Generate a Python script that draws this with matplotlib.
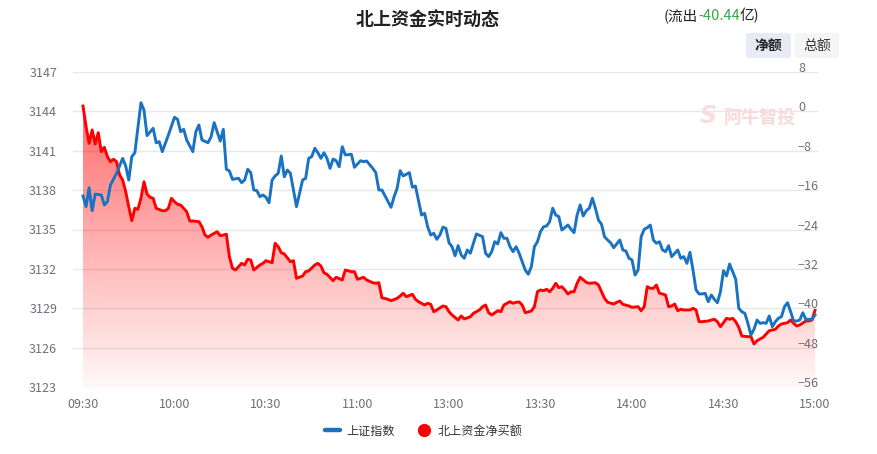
import matplotlib
matplotlib.use('Agg')
import matplotlib.pyplot as plt
import numpy as np
from matplotlib.lines import Line2D
from matplotlib.patches import Polygon, FancyBboxPatch

plt.rcParams['font.family'] = ['Noto Sans CJK SC', 'DejaVu Sans']

# minute index since 09:30 (0..240, lunch break removed)
time_ticks = [0, 30, 60, 90, 120, 150, 180, 210, 240]
time_labels = ['09:30', '10:00', '10:30', '11:00', '13:00', '13:30', '14:00', '14:30', '15:00']

# 上证指数 (left axis)
sh_t = [0, 1, 2, 3, 4, 6, 7, 8, 9, 11, 13, 14, 15, 16, 17, 19, 20, 21, 23, 24,
        25, 26, 28, 30, 31, 32, 33, 34, 36, 37, 38, 39, 41, 42, 43, 44, 45, 46, 47, 48,
        49, 51, 52, 53, 54, 55, 56, 57, 58, 59, 60, 61, 62, 63, 64, 65, 66, 67, 68, 70,
        71, 72, 73, 74, 75, 76, 77, 78, 79, 80, 81, 82, 83, 84, 85, 86, 88, 89, 91, 92,
        93, 95, 96, 97, 98, 100, 101, 102, 103, 104, 105, 107, 108, 109, 111, 112, 113, 114, 115, 116,
        117, 118, 119, 120, 121, 122, 123, 124, 125, 126, 127, 128, 129, 131, 132, 133, 134, 135, 136, 137,
        138, 139, 140, 141, 142, 143, 144, 145, 146, 147, 148, 149, 150, 151, 152, 153, 154, 155, 156, 157,
        159, 160, 161, 162, 163, 164, 165, 166, 167, 168, 169, 170, 171, 172, 173, 174, 175, 176, 177, 178,
        179, 180, 181, 182, 183, 184, 185, 186, 187, 188, 189, 190, 191, 192, 193, 194, 195, 196, 197, 198,
        199, 200, 201, 202, 203, 204, 205, 206, 207, 208, 209, 210, 211, 212, 213, 214, 215, 216, 217, 218,
        219, 220, 221, 222, 223, 224, 225, 226, 227, 228, 229, 230, 231, 232, 233, 234, 235, 236, 237, 238,
        239, 240]
sh_val = [3137.55, 3136.74, 3138.18, 3136.43, 3137.70, 3137.63, 3136.87, 3137.12, 3138.39, 3139.28,
          3140.42, 3139.84, 3138.77, 3140.55, 3140.85, 3144.66, 3144.10, 3142.15, 3142.71, 3141.61,
          3141.69, 3140.93, 3142.20, 3143.55, 3143.40, 3142.45, 3142.63, 3141.82, 3140.93, 3142.45,
          3142.96, 3141.82, 3141.61, 3142.07, 3143.14, 3142.45, 3141.74, 3142.63, 3139.59, 3139.46,
          3138.82, 3138.90, 3138.57, 3138.77, 3139.59, 3139.33, 3138.01, 3137.96, 3137.50, 3137.63,
          3137.45, 3137.04, 3138.77, 3139.08, 3139.28, 3140.60, 3139.02, 3139.53, 3139.28, 3136.74,
          3137.76, 3138.77, 3138.90, 3140.42, 3140.55, 3141.19, 3140.85, 3140.42, 3140.85, 3140.42,
          3139.66, 3140.37, 3140.24, 3139.78, 3141.31, 3140.68, 3140.73, 3139.74, 3140.24, 3140.17,
          3140.22, 3139.66, 3139.33, 3138.01, 3138.01, 3137.12, 3136.69, 3137.50, 3138.14, 3139.48,
          3139.08, 3139.33, 3138.22, 3138.31, 3136.10, 3136.23, 3135.21, 3134.58, 3134.71, 3134.25,
          3134.58, 3135.17, 3135.09, 3133.99, 3133.69, 3133.00, 3133.77, 3133.06, 3132.81, 3133.44,
          3133.19, 3133.95, 3134.66, 3134.45, 3133.19, 3132.93, 3133.31, 3134.07, 3133.90, 3134.76,
          3134.33, 3134.33, 3133.69, 3133.31, 3133.69, 3133.19, 3132.55, 3131.91, 3131.59, 3132.17,
          3133.69, 3134.07, 3134.83, 3135.21, 3135.27, 3135.59, 3136.62, 3136.10, 3135.98, 3134.96,
          3135.34, 3135.02, 3134.76, 3136.10, 3136.87, 3136.03, 3136.43, 3136.62, 3137.38, 3136.62,
          3135.72, 3135.40, 3134.45, 3134.20, 3133.99, 3133.61, 3133.90, 3134.20, 3133.44, 3133.36,
          3132.81, 3132.68, 3131.53, 3131.91, 3134.45, 3135.02, 3135.14, 3135.34, 3134.20, 3133.95,
          3134.07, 3133.44, 3133.31, 3133.77, 3132.93, 3133.19, 3133.44, 3132.81, 3132.93, 3132.42,
          3133.26, 3131.91, 3130.39, 3130.09, 3130.09, 3130.14, 3129.50, 3130.01, 3129.68, 3129.42,
          3130.26, 3131.86, 3131.46, 3132.37, 3131.78, 3131.21, 3129.00, 3128.74, 3128.61, 3127.85,
          3126.96, 3127.40, 3128.10, 3127.85, 3127.90, 3127.85, 3128.41, 3127.59, 3127.98, 3128.23,
          3128.36, 3129.12, 3129.42, 3128.74, 3128.03, 3128.03, 3128.10, 3128.66, 3128.16, 3128.16,
          3128.16, 3128.49]

# 北上资金净买额, 亿 (right axis)
nb_t = [0, 1, 2, 3, 4, 5, 6, 7, 8, 9, 10, 11, 12, 13, 14, 15, 16, 17, 18, 19,
        20, 21, 22, 23, 24, 26, 27, 28, 29, 30, 31, 32, 34, 35, 36, 38, 39, 40, 41, 42,
        44, 45, 46, 47, 48, 49, 50, 52, 53, 54, 55, 56, 58, 59, 60, 62, 63, 64, 65, 66,
        68, 69, 70, 72, 73, 74, 76, 77, 78, 79, 80, 82, 83, 85, 86, 88, 89, 90, 92, 93,
        95, 96, 97, 98, 100, 101, 103, 104, 105, 106, 108, 109, 110, 112, 113, 114, 115, 116, 118, 119,
        120, 121, 123, 124, 125, 127, 128, 130, 131, 132, 133, 134, 136, 137, 138, 139, 140, 141, 142, 143,
        144, 145, 147, 148, 149, 150, 151, 152, 153, 154, 155, 156, 157, 158, 159, 160, 161, 162, 163, 165,
        166, 168, 169, 170, 171, 172, 174, 175, 176, 177, 179, 180, 182, 183, 184, 185, 186, 187, 188, 189,
        190, 191, 192, 193, 194, 195, 196, 197, 198, 199, 200, 201, 202, 203, 205, 206, 207, 208, 209, 210,
        211, 212, 213, 214, 215, 216, 218, 219, 220, 221, 223, 224, 225, 227, 228, 229, 231, 232, 233, 234,
        235, 237, 238, 239, 240]
nb_val = [1.09, -3.11, -6.49, -3.78, -6.63, -4.33, -8.19, -7.30, -9.21, -10.22,
          -9.74, -10.22, -12.93, -13.94, -16.32, -19.37, -22.21, -19.69, -19.90, -17.66,
          -14.29, -16.79, -17.46, -17.66, -19.69, -20.18, -20.18, -19.69, -17.66, -18.35,
          -18.88, -19.02, -20.38, -22.27, -22.27, -22.41, -23.43, -25.12, -25.58, -25.12,
          -24.45, -25.26, -25.12, -24.97, -29.53, -31.88, -32.23, -30.87, -31.21, -30.05,
          -30.20, -32.23, -31.21, -30.87, -30.34, -30.74, -26.80, -27.49, -28.71, -28.98,
          -30.54, -30.34, -33.91, -33.45, -32.57, -32.43, -31.21, -30.87, -31.41, -32.78,
          -33.10, -34.40, -33.71, -34.26, -32.23, -32.57, -32.57, -34.12, -33.71, -34.26,
          -34.81, -34.93, -34.81, -37.86, -38.18, -38.47, -37.98, -37.51, -36.96, -37.65,
          -37.17, -38.18, -38.67, -39.34, -38.99, -39.20, -40.70, -40.35, -39.54, -39.68,
          -40.70, -41.37, -42.39, -41.57, -42.18, -41.72, -41.03, -40.35, -39.68, -39.34,
          -40.90, -41.37, -40.50, -40.70, -39.34, -38.99, -38.67, -38.99, -38.79, -38.73,
          -39.34, -40.90, -40.56, -39.68, -36.64, -36.29, -36.43, -36.15, -36.64, -35.95,
          -34.93, -35.82, -35.62, -36.29, -37.10, -36.64, -36.64, -34.93, -33.71, -34.73,
          -34.93, -34.81, -35.28, -36.64, -37.98, -38.79, -39.14, -38.79, -38.53, -39.20,
          -39.54, -39.81, -39.68, -40.50, -39.68, -35.62, -35.95, -35.95, -35.28, -36.96,
          -37.10, -37.31, -39.68, -39.54, -39.14, -40.50, -40.21, -40.35, -40.35, -40.35,
          -40.01, -40.35, -42.73, -42.73, -42.59, -42.39, -42.24, -42.73, -43.75, -42.93,
          -42.04, -42.24, -42.04, -42.73, -43.87, -45.64, -45.78, -45.78, -47.26, -46.59,
          -45.90, -45.23, -44.56, -44.28, -43.61, -43.20, -42.93, -42.39, -43.06, -43.61,
          -43.40, -42.59, -42.59, -42.39, -40.44]

left_ticks = [3123, 3126, 3129, 3132, 3135, 3138, 3141, 3144, 3147]
right_ticks = [-56, -48, -40, -32, -24, -16, -8, 0, 8]

W, H = 877, 454
fig = plt.figure(figsize=(W / 100, H / 100), dpi=100)
fig.patch.set_facecolor('white')

rect = [73 / W, 1 - 387 / H, 745 / W, 315 / H]
ax2 = fig.add_axes(rect)             # 北上资金 (bottom layer, right ticks)
ax = fig.add_axes(rect, sharex=ax2)  # 上证指数 drawn on top
ax.patch.set_visible(False)

# red area with a vertical gradient, clipped to the area under the line
verts = [(nb_t[0], right_ticks[0])] + list(zip(nb_t, nb_val)) + [(nb_t[-1], right_ticks[0])]
clip = Polygon(verts, closed=True, facecolor='none', edgecolor='none')
ax2.add_patch(clip)
grad = np.zeros((256, 1, 4))
grad[..., 0] = 1.0
grad[:, 0, 3] = np.linspace(0.58, 0.03, 256)
im = ax2.imshow(grad, extent=[nb_t[0], nb_t[-1], right_ticks[0], max(nb_val)],
                aspect='auto', origin='upper', zorder=1, interpolation='bilinear')
im.set_clip_path(clip)
ax2.plot(nb_t, nb_val, color='#ff0000', lw=2.1, zorder=3, solid_joinstyle='round')

ax.plot(sh_t, sh_val, color='#1a72c2', lw=2.1, zorder=3, solid_joinstyle='round')

x0, x1 = -10 / 3.05, 240 + 3 / 3.05
for a in (ax, ax2):
    a.set_xlim(x0, x1)
    for s in a.spines.values():
        s.set_visible(False)

ax2.set_ylim(right_ticks[0], right_ticks[-1])
ax2.set_yticks(right_ticks)
ax2.yaxis.tick_right()
ax2.grid(axis='y', color='#e8e8e8', lw=1)
ax2.set_axisbelow(True)
ax2.tick_params(axis='y', length=0, pad=-14.4, labelsize=9, labelcolor='#6e7079')
plt.setp(ax2.get_yticklabels(), va='baseline')
ax2.tick_params(axis='x', bottom=False, labelbottom=False)

ax.set_ylim(left_ticks[0], left_ticks[-1])
ax.set_yticks(left_ticks)
ax.tick_params(axis='y', length=0, pad=11.5, labelsize=9, labelcolor='#6e7079')
ax.set_xticks(time_ticks, time_labels)
ax.tick_params(axis='x', length=0, pad=8, labelsize=9, labelcolor='#6e7079')

# header
fig.text(428 / W, 1 - 20 / H, '北上资金实时动态', ha='center', va='center',
         fontsize=13, fontweight='bold', color='#222222')
t1 = fig.text(664 / W, 1 - 23 / H, '(流出', fontsize=10.5, color='#222222', va='bottom')
t2 = fig.add_artist(matplotlib.text.Annotation('-40.44', xy=(1, 0), xycoords=t1, va='bottom',
                                               fontsize=10.5, color='#35a845'))
t3 = fig.add_artist(matplotlib.text.Annotation('亿)', xy=(1, 0), xycoords=t2, va='bottom',
                                               fontsize=10.5, color='#222222'))

fig.patches.append(FancyBboxPatch((746 / W, 1 - 58 / H), 45 / W, 25 / H,
                                  boxstyle='round,pad=0,rounding_size=0.004',
                                  transform=fig.transFigure, facecolor='#e8ebf5', edgecolor='none'))
fig.patches.append(FancyBboxPatch((795 / W, 1 - 58 / H), 44 / W, 25 / H,
                                  boxstyle='round,pad=0,rounding_size=0.004',
                                  transform=fig.transFigure, facecolor='#f5f5f5', edgecolor='none'))
fig.text(768.5 / W, 1 - 45.5 / H, '净额', ha='center', va='center', fontsize=10,
         color='#222222', fontweight='bold')
fig.text(817 / W, 1 - 45.5 / H, '总额', ha='center', va='center', fontsize=10, color='#333333')

# watermark
fig.text(708 / W, 1 - 116 / H, 'S', ha='center', va='center', fontsize=17, fontstyle='italic',
         fontweight='bold', color='#f9dcdc', family='DejaVu Sans')
fig.text(760 / W, 1 - 117 / H, '阿牛智投', ha='center', va='center', fontsize=13,
         fontweight='bold', color='#f9d9d9')
fig.text(805 / W, 1 - 100 / H, '®', ha='center', va='center', fontsize=4.5, color='#f9d9d9')

# legend
handles = [Line2D([], [], color='#1a72c2', lw=3.2, solid_capstyle='round'),
           Line2D([], [], color='#ff0000', lw=0, marker='o', markersize=8.5)]
fig.legend(handles, ['上证指数', '北上资金净买额'], loc='center', bbox_to_anchor=(424 / W, 1 - 431 / H),
           ncol=2, frameon=False, fontsize=8.7, handlelength=1.25, handletextpad=0.5,
           columnspacing=1.8, labelcolor='#333333')

fig.savefig('out.png', dpi=100)
